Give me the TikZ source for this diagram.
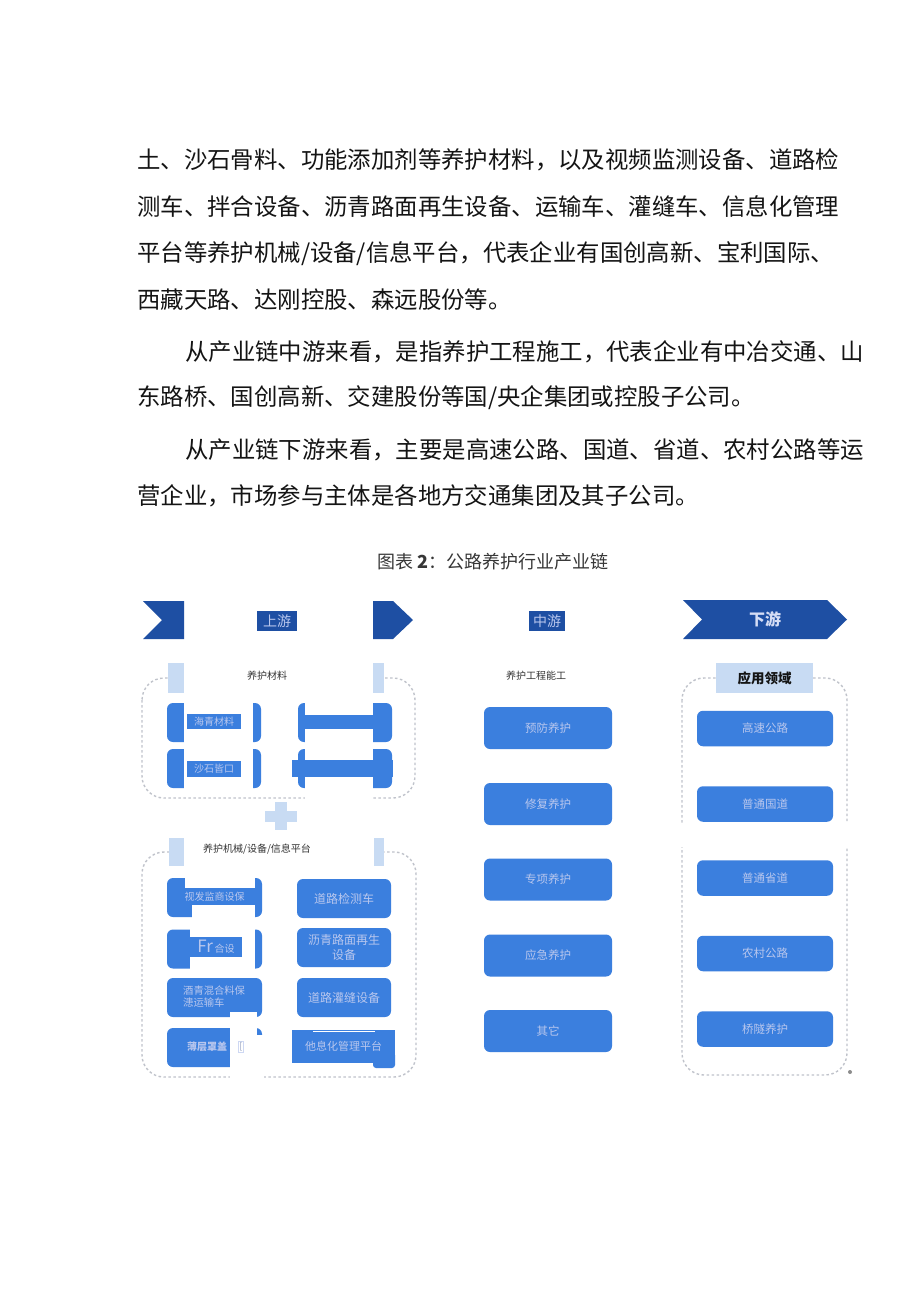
\documentclass[tikz,border=0pt]{standalone}
\usepackage{fontspec}
\newfontfamily\cjk{Noto Sans CJK SC}
\definecolor{banner}{HTML}{1E4FA3}
\definecolor{boxblue}{HTML}{3B7FDE}
\definecolor{boxtext}{HTML}{B9C7EE}
\definecolor{paleblue}{HTML}{C8DBF3}
\definecolor{dashgray}{HTML}{C0C3CB}
\definecolor{ink}{HTML}{141414}
\begin{document}
\begin{tikzpicture}[x=1pt,y=-1pt,
  bodytext/.style={anchor=west, inner sep=0pt, font=\cjk\fontsize{23.4}{28}\selectfont, text=ink},
  smalllabel/.style={inner sep=0pt, font=\cjk\fontsize{10}{12}\selectfont, text=black!80},
  bluebox/.style={rectangle, rounded corners=6pt, fill=boxblue, inner sep=0pt, text=boxtext, font=\cjk\fontsize{11.5}{14}\selectfont},
  tagbox/.style={rectangle, fill=boxblue, inner sep=0pt, text=boxtext, font=\cjk\fontsize{10}{12}\selectfont},
  headbox/.style={rectangle, fill=banner, inner sep=0pt, text=boxtext, font=\cjk\fontsize{14}{16}\selectfont},
  dashbox/.style={draw=dashgray, line width=1.4pt, dash pattern=on 2.5pt off 2.5pt, rounded corners=22pt},
  sq/.style={minimum width=94pt, minimum height=39pt},
  midbox/.style={bluebox, minimum width=128pt, minimum height=42pt},
  rightbox/.style={bluebox, minimum width=136pt, minimum height=35.5pt}
]
\useasboundingbox (0,0) rectangle (920,1301);
\fill[white] (0,0) rectangle (920,1301);

% ---------- body text ----------
\node[bodytext] (t1) at (137,160) {土、沙石骨料、功能添加剂等养护材料，以及视频监测设备、道路检};
\node[bodytext] (t2) at (137,207) {测车、拌合设备、沥青路面再生设备、运输车、灌缝车、信息化管理};
\node[bodytext] (t3) at (137,254) {平台等养护机械/设备/信息平台，代表企业有国创高新、宝利国际、};
\node[bodytext] (t4) at (137,300) {西藏天路、达刚控股、森远股份等。};
\node[bodytext] (t5) at (185,352) {从产业链中游来看，是指养护工程施工，代表企业有中冶交通、山};
\node[bodytext] (t6) at (137,398) {东路桥、国创高新、交建股份等国/央企集团或控股子公司。};
\node[bodytext] (t7) at (185,450) {从产业链下游来看，主要是高速公路、国道、省道、农村公路等运};
\node[bodytext] (t8) at (137,496) {营企业，市场参与主体是各地方交通集团及其子公司。};

\node[inner sep=0pt, font=\cjk\fontsize{18}{20}\selectfont, text=ink!85] (cap) at (493,562) {图表 \textbf{2}：公路养护行业产业链};

% ---------- upstream ----------
\fill[banner] (143,601) -- (184,601) -- (184,639) -- (143,639) -- (162,620) -- cycle;
\fill[banner] (373,601) -- (393,601) -- (413,620) -- (393,639) -- (373,639) -- cycle;
\node[headbox, minimum width=40pt, minimum height=20pt] (up) at (277,621) {上游};

\draw[dashbox] (142,678) rectangle (415,798);
\fill[white] (184,655) rectangle (373,700);
\fill[white] (305,790) rectangle (373,806);
\fill[paleblue] (168,663) rectangle (184,693);
\fill[paleblue] (373,663) rectangle (384,693);
\node[smalllabel] (matl) at (267,676) {养护材料};

\node[bluebox, sq] (a1) at (214,722.5) {};
\fill[white] (184,701) rectangle (253,744);
\node[tagbox, minimum width=54pt, minimum height=15pt] (a1t) at (214,721.5) {海青材料};
\node[bluebox, sq] (a2) at (214,768.5) {};
\fill[white] (184,747) rectangle (253,790);
\node[tagbox, minimum width=54pt, minimum height=16pt] (a2t) at (214,769) {沙石皆口};

\node[bluebox, sq] (b1) at (345,722.5) {};
\fill[white] (305,701) rectangle (373,744);
\node[tagbox, minimum width=68pt, minimum height=14pt] (b1t) at (339,722) {};
\node[bluebox, sq] (b2) at (345,768.5) {};
\fill[white] (305,747) rectangle (373,790);
\node[tagbox, minimum width=101pt, minimum height=17pt] (b2t) at (342.5,768.5) {};

\fill[paleblue] (265,811) rectangle (297,822);
\fill[paleblue] (275,802) rectangle (287,830);

\draw[dashbox] (142,852) rectangle (416,1077);
\fill[white] (184,835) rectangle (374,872);
\fill[paleblue] (169,838) rectangle (184,866);
\fill[paleblue] (374,838) rectangle (384,866);
\node[smalllabel] (mach) at (257,849) {养护机械/设备/信息平台};

\node[bluebox, sq, minimum width=95pt] (c1) at (214.5,897.5) {};
\fill[white] (185,876) rectangle (255,888);
\fill[white] (192,905) rectangle (255,919);
\node[tagbox, minimum width=77pt, minimum height=17pt] (c1t) at (214.5,896.5) {视发监商设保};

\node[bluebox, sq, minimum width=95pt] (c2) at (214.5,949) {};
\fill[white] (190,927) rectangle (255,971);
\node[tagbox, minimum width=52pt, minimum height=20pt] (c2t) at (216,947) {{\fontsize{17}{17}\selectfont Fr}\,合设};

\node[bluebox, sq, minimum width=95pt] (c3) at (214.5,997.5) {};
\node[inner sep=0pt, anchor=west, align=left, text=boxtext, font=\cjk\fontsize{10.3}{11.6}\selectfont] (c3t) at (183,996.5) {酒青混合料保\\漶运输车};

\node[bluebox, sq, minimum width=95pt] (c4) at (214.5,1047.5) {};
\fill[white] (230,1012) rectangle (257,1080);
\fill[white] (257,1035) rectangle (264,1080);
\node[inner sep=0pt, text=boxtext, font=\cjk\bfseries\fontsize{10}{12}\selectfont] (c4t) at (207,1047) {薄层罩盖};
\node[inner sep=1pt, draw=boxtext!70, text=boxtext!80!black, font=\cjk\fontsize{9}{10}\selectfont] (c4b) at (241,1047) {[};

\node[bluebox, sq, font=\cjk\fontsize{12}{15}\selectfont] (d1) at (344,898.5) {道路检测车};
\node[bluebox, sq, align=center, font=\cjk\fontsize{12}{15}\selectfont] (d2) at (344,947.5) {沥青路面再生\\设备};
\node[bluebox, sq, font=\cjk\fontsize{12}{15}\selectfont] (d3) at (344,997.5) {道路灌缝设备};
\fill[boxblue, rounded corners=3pt] (373,1052) rectangle (395,1068);
\node[tagbox, minimum width=103pt, minimum height=33pt, font=\cjk\fontsize{11}{13}\selectfont] (d4) at (343.5,1046.5) {他息化管理平台};
\draw[white, line width=1.5pt] (313,1031.5) -- (375,1031.5);

% ---------- midstream ----------
\node[headbox, minimum width=36pt, minimum height=20pt] (mid) at (547,621) {中游};
\node[smalllabel] (midl) at (536,676) {养护工程能工};
\node[midbox] (m1) at (548,728) {预防养护};
\node[midbox] (m2) at (548,804) {修复养护};
\node[midbox] (m3) at (548,879.5) {专项养护};
\node[midbox] (m4) at (548,955.5) {应急养护};
\node[midbox] (m5) at (548,1031) {其它};

% ---------- downstream ----------
\fill[banner] (683,600) -- (827,600) -- (847,619.5) -- (827,639) -- (683,639) -- (702,619.5) -- cycle;
\node[inner sep=0pt, text=boxtext!60!white, font=\cjk\bfseries\fontsize{16}{18}\selectfont] (down) at (765,619) {下游};

\draw[dashbox] (682,678) rectangle (847,1075);
\fill[white] (672,823) rectangle (857,847);
\node[fill=paleblue, inner sep=0pt, minimum width=97pt, minimum height=30pt, text=ink, font=\cjk\bfseries\fontsize{13.5}{15}\selectfont] (app) at (764.5,678) {应用领域};
\node[rightbox] (r1) at (765,728.5) {高速公路};
\node[rightbox] (r2) at (765,804) {普通国道};
\node[rightbox] (r3) at (765,878) {普通省道};
\node[rightbox] (r4) at (765,953.5) {农村公路};
\node[rightbox] (r5) at (765,1029) {桥隧养护};
\fill[black!45] (850,1072) circle (2);
\end{tikzpicture}
\end{document}
